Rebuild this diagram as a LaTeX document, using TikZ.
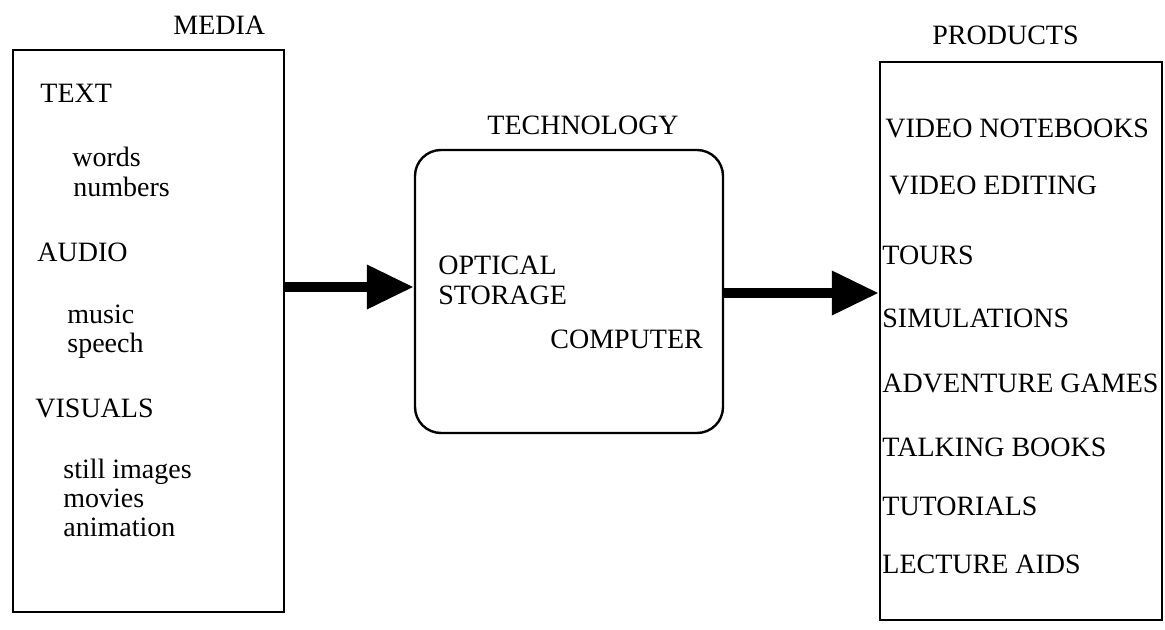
\documentclass[tikz,border=0pt]{standalone}
\usepackage{fontspec}
\setmainfont{Liberation Serif}
\usetikzlibrary{arrows.meta}
\begin{document}
\begin{tikzpicture}[x=0.5pt,y=-0.5pt,
  lbl/.style={anchor=base west, inner sep=0pt, font=\fontsize{14}{17}\selectfont},
  multi/.style={anchor=base west, inner sep=0pt, align=left, font=\fontsize{14}{#1}\selectfont},
  box/.style={draw, line width=1.2pt, inner sep=0pt},
  bigarrow/.style={line width=5pt, -{Triangle[length=23.5pt,width=21pt]}}]
\useasboundingbox (0,0) rectangle (1165,630);
% boxes
\node[box, minimum width=135.5pt, minimum height=281pt] (media) at (148.5,331) {};
\node[box, rounded corners=13pt, minimum width=154pt, minimum height=141.5pt] (tech) at (569,291.5) {};
\node[box, minimum width=141pt, minimum height=279pt] (prod) at (1021,341) {};
% titles
\node[lbl] (tmedia) at (173,35) {MEDIA};
\node[lbl] (ttech) at (487,135) {TECHNOLOGY};
\node[lbl] (tprod) at (932,45) {PRODUCTS};
% media contents (multi-line nodes: base = last line)
\node[lbl] (m1) at (40,103) {TEXT};
\node[multi=15pt] (m2) at (72,197) {words\\\hspace{0.5pt}numbers};
\node[lbl] (m4) at (37,262) {AUDIO};
\node[multi=14.5pt] (m5) at (67,352) {music\\speech};
\node[lbl] (m7) at (35,417) {VISUALS};
\node[multi=14.5pt] (m8) at (63,536) {still images\\movies\\animation};
% technology contents
\node[multi=15pt] (c1) at (438,305) {OPTICAL\\STORAGE};
\node[lbl] (c3) at (550,348) {COMPUTER};
% products contents
\node[lbl] (p1) at (885,138) {VIDEO NOTEBOOKS};
\node[lbl] (p2) at (889,195) {VIDEO EDITING};
\node[lbl] (p3) at (882,265) {TOURS};
\node[lbl] (p4) at (882,328) {SIMULATIONS};
\node[lbl] (p5) at (882,392) {ADVENTURE GAMES};
\node[lbl] (p6) at (882,456) {TALKING BOOKS};
\node[lbl] (p7) at (882,515) {TUTORIALS};
\node[lbl] (p8) at (882,573) {LECTURE AIDS};
% connectors
\coordinate (a1) at (0,287);
\coordinate (a2) at (0,293);
\draw[bigarrow] (media.east |- a1) -- (tech.west |- a1);
\draw[bigarrow] (tech.east |- a2) -- (prod.west |- a2);
\end{tikzpicture}
\end{document}
